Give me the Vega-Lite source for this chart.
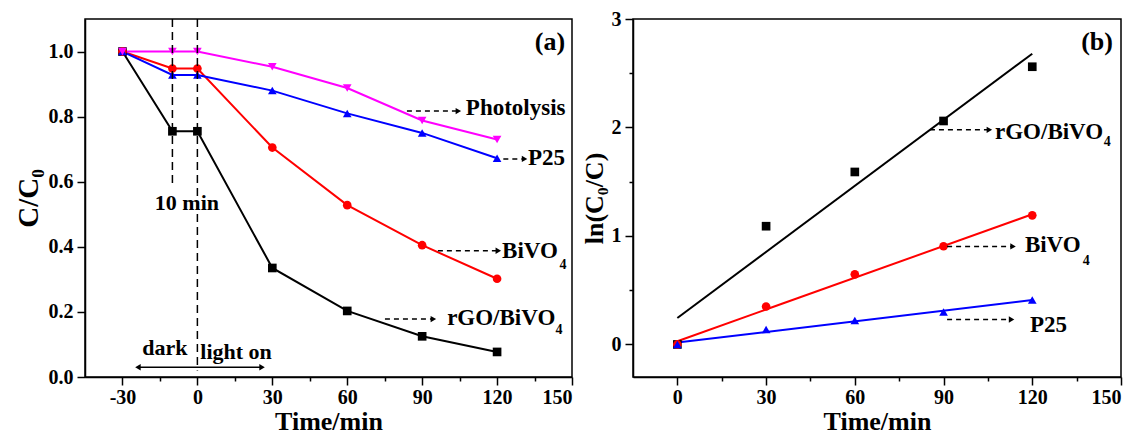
{
  "$schema": "https://vega.github.io/schema/vega-lite/v6.json",
  "background": "white",
  "padding": {"left": 13, "top": 8, "right": 0, "bottom": 0},
  "bounds": "flush",
  "spacing": 61,
  "datasets": {
    "a": [
      {"t": -30, "v": 1.0, "s": "rGO/BiVO4"}, {"t": -10, "v": 0.755, "s": "rGO/BiVO4"}, {"t": 0, "v": 0.755, "s": "rGO/BiVO4"}, {"t": 30, "v": 0.335, "s": "rGO/BiVO4"}, {"t": 60, "v": 0.203, "s": "rGO/BiVO4"}, {"t": 90, "v": 0.125, "s": "rGO/BiVO4"}, {"t": 120, "v": 0.077, "s": "rGO/BiVO4"},
      {"t": -30, "v": 1.0, "s": "BiVO4"}, {"t": -10, "v": 0.948, "s": "BiVO4"}, {"t": 0, "v": 0.948, "s": "BiVO4"}, {"t": 30, "v": 0.705, "s": "BiVO4"}, {"t": 60, "v": 0.528, "s": "BiVO4"}, {"t": 90, "v": 0.405, "s": "BiVO4"}, {"t": 120, "v": 0.302, "s": "BiVO4"},
      {"t": -30, "v": 1.0, "s": "P25"}, {"t": -10, "v": 0.928, "s": "P25"}, {"t": 0, "v": 0.928, "s": "P25"}, {"t": 30, "v": 0.88, "s": "P25"}, {"t": 60, "v": 0.81, "s": "P25"}, {"t": 90, "v": 0.75, "s": "P25"}, {"t": 120, "v": 0.672, "s": "P25"},
      {"t": -30, "v": 1.0, "s": "Photolysis"}, {"t": -10, "v": 1.0, "s": "Photolysis"}, {"t": 0, "v": 1.0, "s": "Photolysis"}, {"t": 30, "v": 0.953, "s": "Photolysis"}, {"t": 60, "v": 0.888, "s": "Photolysis"}, {"t": 90, "v": 0.788, "s": "Photolysis"}, {"t": 120, "v": 0.73, "s": "Photolysis"}
    ],
    "aVline": [{"x": -10, "y": 1.1, "y2": 0.584}, {"x": 0, "y": 1.1, "y2": 0.02}],
    "aArrow": [{"x": 83.9, "x2": 104.5, "y": 0.817}, {"x": 122.5, "x2": 131.0, "y": 0.67}, {"x": 96.3, "x2": 120.5, "y": 0.388}, {"x": 75.1, "x2": 94.5, "y": 0.178}],
    "aLabel": [{"x": 107.5, "y": 0.826, "text": "Photolysis"}, {"x": 132.4, "y": 0.672, "text": "P25"}, {"x": 122, "y": 0.386, "text": "BiVO"}, {"x": 100, "y": 0.181, "text": "rGO/BiVO"}],
    "aCenter": [{"x": -4.2, "y": 0.535, "text": "10 min"}, {"x": -13, "y": 0.089, "text": "dark"}, {"x": 15.5, "y": 0.077, "text": "light on"}],
    "aSub": [{"x": 145, "y": 0.344, "text": "4"}, {"x": 143.4, "y": 0.144, "text": "4"}],
    "aDouble": [{"x": -23.8, "x2": 25.9, "y": 0.03}],
    "aHeadL": [{"x": -23.8, "y": 0.03}],
    "aHeadR": [{"x": 25.9, "y": 0.03}],
    "aTag": [{"x": 141.2, "y": 1.03, "text": "(a)"}],
    "b": [
      {"t": 0, "v": 0, "s": "rGO/BiVO4"}, {"t": 30, "v": 1.09, "s": "rGO/BiVO4"}, {"t": 60, "v": 1.59, "s": "rGO/BiVO4"}, {"t": 90, "v": 2.06, "s": "rGO/BiVO4"}, {"t": 120, "v": 2.56, "s": "rGO/BiVO4"},
      {"t": 0, "v": 0, "s": "BiVO4"}, {"t": 30, "v": 0.35, "s": "BiVO4"}, {"t": 60, "v": 0.646, "s": "BiVO4"}, {"t": 90, "v": 0.905, "s": "BiVO4"}, {"t": 120, "v": 1.19, "s": "BiVO4"},
      {"t": 0, "v": 0, "s": "P25"}, {"t": 30, "v": 0.137, "s": "P25"}, {"t": 60, "v": 0.22, "s": "P25"}, {"t": 90, "v": 0.30, "s": "P25"}, {"t": 120, "v": 0.41, "s": "P25"}
    ],
    "bFit": [
      {"t": 0, "v": 0.244, "s": "rGO/BiVO4"}, {"t": 120, "v": 2.68, "s": "rGO/BiVO4"},
      {"t": 0, "v": 0.03, "s": "BiVO4"}, {"t": 120, "v": 1.2, "s": "BiVO4"},
      {"t": 0, "v": 0.017, "s": "P25"}, {"t": 120, "v": 0.41, "s": "P25"}
    ],
    "bArrow": [{"x": 85.4, "x2": 105.5, "y": 1.978}, {"x": 91.2, "x2": 113.5, "y": 0.904}, {"x": 91.2, "x2": 113.0, "y": 0.23}],
    "bLabel": [{"x": 107.4, "y": 1.96, "text": "rGO/BiVO"}, {"x": 117.5, "y": 0.913, "text": "BiVO"}, {"x": 119.2, "y": 0.178, "text": "P25"}],
    "bSub": [{"x": 144.2, "y": 1.867, "text": "4"}, {"x": 137.1, "y": 0.773, "text": "4"}],
    "bTag": [{"x": 141.9, "y": 2.79, "text": "(b)"}]
  },
  "hconcat": [
    {
      "width": 487,
      "height": 358,
      "layer": [
        {
          "data": {"name": "a"},
          "mark": {"type": "line", "strokeWidth": 2},
          "encoding": {
            "x": {"field": "t", "type": "quantitative", "scale": {"domain": [-45, 150], "nice": false, "zero": false},
              "axis": {"title": "Time/min", "values": [-30, -15, 0, 15, 30, 45, 60, 75, 90, 105, 120, 135, 150],
                "labelExpr": "datum.value % 30 === 0 ? '' + datum.value : ''",
                "tickSize": {"condition": {"test": "datum.value % 30 === 0", "value": 8}, "value": 4},
                "labelPadding": 2, "titlePadding": 1}},
            "y": {"field": "v", "type": "quantitative", "scale": {"domain": [0, 1.1], "nice": false, "zero": false},
              "axis": {"title": "C/C₀", "titleFontSize": 29, "values": [0, 0.1, 0.2, 0.3, 0.4, 0.5, 0.6, 0.7, 0.8, 0.9, 1.0],
                "labelExpr": "round(datum.value * 10) % 2 === 0 ? format(datum.value, '.1f') : ''",
                "tickSize": {"condition": {"test": "round(datum.value * 10) % 2 === 0", "value": 8}, "value": 4},
                "labelPadding": 4, "titlePadding": 5}},
            "color": {"field": "s", "type": "nominal", "legend": null,
              "scale": {"domain": ["rGO/BiVO4", "BiVO4", "P25", "Photolysis"], "range": ["#000000", "#ff0000", "#0000ff", "#ff00ff"]}},
            "detail": {"field": "s"}
          }
        },
        {
          "data": {"name": "a"},
          "mark": {"type": "point", "filled": true, "opacity": 1, "size": 75},
          "encoding": {
            "x": {"field": "t", "type": "quantitative"},
            "y": {"field": "v", "type": "quantitative"},
            "color": {"field": "s", "type": "nominal", "legend": null},
            "shape": {"field": "s", "type": "nominal", "legend": null,
              "scale": {"domain": ["rGO/BiVO4", "BiVO4", "P25", "Photolysis"], "range": ["square", "circle", "triangle-up", "triangle-down"]}}
          }
        },
        {
          "data": {"name": "aVline"},
          "mark": {"type": "rule", "color": "black", "strokeWidth": 1.5, "strokeDash": [8, 5]},
          "encoding": {"x": {"field": "x", "type": "quantitative"}, "y": {"field": "y", "type": "quantitative"}, "y2": {"field": "y2"}}
        },
        {
          "data": {"name": "aArrow"},
          "mark": {"type": "rule", "color": "black", "strokeWidth": 1.5, "strokeDash": [5, 4]},
          "encoding": {"x": {"field": "x", "type": "quantitative"}, "x2": {"field": "x2"}, "y": {"field": "y", "type": "quantitative"}}
        },
        {
          "data": {"name": "aArrow"},
          "mark": {"type": "point", "shape": "triangle-right", "filled": true, "color": "black", "opacity": 1, "size": 40},
          "encoding": {"x": {"field": "x2", "type": "quantitative"}, "y": {"field": "y", "type": "quantitative"}}
        },
        {
          "data": {"name": "aDouble"},
          "mark": {"type": "rule", "color": "black", "strokeWidth": 1.5},
          "encoding": {"x": {"field": "x", "type": "quantitative"}, "x2": {"field": "x2"}, "y": {"field": "y", "type": "quantitative"}}
        },
        {
          "data": {"name": "aHeadL"},
          "mark": {"type": "point", "shape": "triangle-left", "filled": true, "color": "black", "opacity": 1, "size": 40},
          "encoding": {"x": {"field": "x", "type": "quantitative"}, "y": {"field": "y", "type": "quantitative"}}
        },
        {
          "data": {"name": "aHeadR"},
          "mark": {"type": "point", "shape": "triangle-right", "filled": true, "color": "black", "opacity": 1, "size": 40},
          "encoding": {"x": {"field": "x", "type": "quantitative"}, "y": {"field": "y", "type": "quantitative"}}
        },
        {
          "data": {"name": "aLabel"},
          "mark": {"type": "text", "align": "left", "baseline": "middle", "fontSize": 23},
          "encoding": {"x": {"field": "x", "type": "quantitative"}, "y": {"field": "y", "type": "quantitative"}, "text": {"field": "text"}}
        },
        {
          "data": {"name": "aCenter"},
          "mark": {"type": "text", "align": "center", "baseline": "middle", "fontSize": 22},
          "encoding": {"x": {"field": "x", "type": "quantitative"}, "y": {"field": "y", "type": "quantitative"}, "text": {"field": "text"}}
        },
        {
          "data": {"name": "aSub"},
          "mark": {"type": "text", "align": "left", "baseline": "middle", "fontSize": 14},
          "encoding": {"x": {"field": "x", "type": "quantitative"}, "y": {"field": "y", "type": "quantitative"}, "text": {"field": "text"}}
        },
        {
          "data": {"name": "aTag"},
          "mark": {"type": "text", "align": "center", "baseline": "middle", "fontSize": 26},
          "encoding": {"x": {"field": "x", "type": "quantitative"}, "y": {"field": "y", "type": "quantitative"}, "text": {"field": "text"}}
        }
      ]
    },
    {
      "width": 488,
      "height": 358,
      "layer": [
        {
          "data": {"name": "bFit"},
          "mark": {"type": "line", "strokeWidth": 2},
          "encoding": {
            "x": {"field": "t", "type": "quantitative", "scale": {"domain": [-15, 150], "nice": false, "zero": false},
              "axis": {"title": "Time/min", "values": [0, 15, 30, 45, 60, 75, 90, 105, 120, 135, 150],
                "labelExpr": "datum.value % 30 === 0 ? '' + datum.value : ''",
                "tickSize": {"condition": {"test": "datum.value % 30 === 0", "value": 8}, "value": 4},
                "labelPadding": 2, "titlePadding": 1}},
            "y": {"field": "v", "type": "quantitative", "scale": {"domain": [-0.3, 3], "nice": false, "zero": false},
              "axis": {"title": "ln(C₀/C)", "values": [0, 0.5, 1, 1.5, 2, 2.5, 3],
                "labelExpr": "datum.value % 1 === 0 ? '' + datum.value : ''",
                "tickSize": {"condition": {"test": "datum.value % 1 === 0", "value": 8}, "value": 4},
                "labelPadding": 4, "titlePadding": 4}},
            "color": {"field": "s", "type": "nominal", "legend": null,
              "scale": {"domain": ["rGO/BiVO4", "BiVO4", "P25"], "range": ["#000000", "#ff0000", "#0000ff"]}},
            "detail": {"field": "s"}
          }
        },
        {
          "data": {"name": "b"},
          "mark": {"type": "point", "filled": true, "opacity": 1, "size": 75},
          "encoding": {
            "x": {"field": "t", "type": "quantitative"},
            "y": {"field": "v", "type": "quantitative"},
            "color": {"field": "s", "type": "nominal", "legend": null},
            "shape": {"field": "s", "type": "nominal", "legend": null,
              "scale": {"domain": ["rGO/BiVO4", "BiVO4", "P25"], "range": ["square", "circle", "triangle-up"]}}
          }
        },
        {
          "data": {"name": "bArrow"},
          "mark": {"type": "rule", "color": "black", "strokeWidth": 1.5, "strokeDash": [5, 4]},
          "encoding": {"x": {"field": "x", "type": "quantitative"}, "x2": {"field": "x2"}, "y": {"field": "y", "type": "quantitative"}}
        },
        {
          "data": {"name": "bArrow"},
          "mark": {"type": "point", "shape": "triangle-right", "filled": true, "color": "black", "opacity": 1, "size": 40},
          "encoding": {"x": {"field": "x2", "type": "quantitative"}, "y": {"field": "y", "type": "quantitative"}}
        },
        {
          "data": {"name": "bLabel"},
          "mark": {"type": "text", "align": "left", "baseline": "middle", "fontSize": 23},
          "encoding": {"x": {"field": "x", "type": "quantitative"}, "y": {"field": "y", "type": "quantitative"}, "text": {"field": "text"}}
        },
        {
          "data": {"name": "bSub"},
          "mark": {"type": "text", "align": "left", "baseline": "middle", "fontSize": 14},
          "encoding": {"x": {"field": "x", "type": "quantitative"}, "y": {"field": "y", "type": "quantitative"}, "text": {"field": "text"}}
        },
        {
          "data": {"name": "bTag"},
          "mark": {"type": "text", "align": "center", "baseline": "middle", "fontSize": 26},
          "encoding": {"x": {"field": "x", "type": "quantitative"}, "y": {"field": "y", "type": "quantitative"}, "text": {"field": "text"}}
        }
      ]
    }
  ],
  "config": {
    "view": {"stroke": "black", "strokeWidth": 1.5},
    "axis": {"domainColor": "black", "domainWidth": 1.5, "tickColor": "black", "tickWidth": 1.5, "grid": false,
      "labelFont": "Liberation Serif", "labelFontWeight": "bold", "labelFontSize": 20, "labelColor": "black",
      "titleFont": "Liberation Serif", "titleFontWeight": "bold", "titleFontSize": 26, "titleColor": "black"},
    "text": {"font": "Liberation Serif", "fontWeight": "bold", "color": "black"}
  }
}
